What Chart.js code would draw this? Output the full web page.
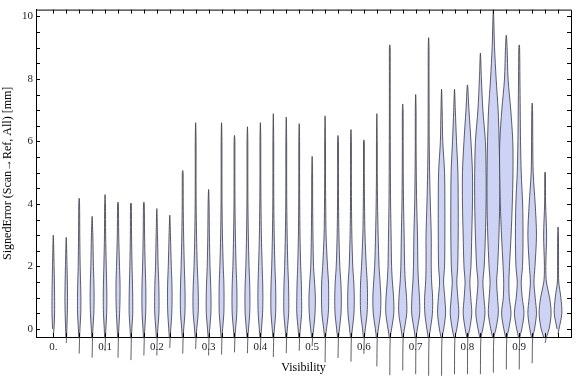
<!DOCTYPE html>
<html>
<head>
<meta charset="utf-8">
<script src="https://cdn.jsdelivr.net/npm/chart.js@4"></script>
<style>
  html, body { margin: 0; padding: 0; background: #fff; }
  #violinChart { display: block; }
</style>
</head>
<body>
<canvas id="violinChart" width="576" height="377"></canvas>
<script>
// 바이올린 위치 (Visibility)
const visibility = [
  0, 0.025, 0.05, 0.075, 0.1, 0.125, 0.15, 0.175, 0.2, 0.225,
  0.25, 0.275, 0.3, 0.325, 0.35, 0.375, 0.4, 0.425, 0.45, 0.475,
  0.5, 0.525, 0.55, 0.575, 0.6, 0.625, 0.65, 0.675, 0.7, 0.725,
  0.75, 0.775, 0.8, 0.825, 0.85, 0.875, 0.9, 0.925, 0.95, 0.975
];

// 최대값 / 최소값
const topValues = [
  3.0, 2.93, 4.18, 3.6, 4.3, 4.06, 4.03, 4.06, 3.85, 3.64,
  5.07, 6.6, 4.46, 6.6, 6.19, 6.47, 6.6, 6.89, 6.78, 6.57,
  5.52, 6.82, 6.19, 6.38, 6.05, 6.89, 9.09, 7.2, 7.5, 9.32,
  7.67, 7.67, 7.81, 8.83, 10.2, 9.4, 9.09, 7.23, 5.02, 3.26
];
const bottomValues = [
  -0.2, -0.45, -0.79, -0.92, -0.71, -0.92, -1.0, -0.85, -0.85, -0.61,
  -0.79, -0.64, -0.85, -0.82, -0.75, -0.78, -0.68, -0.9, -0.78, -0.7,
  -0.55, -1.07, -0.93, -1.05, -0.8, -1.2, -1.48, -1.33, -1.45, -1.5,
  -1.5, -1.45, -1.45, -1.45, -1.4, -1.3, -1.3, -1.1, -0.45, -0.15
];

// 밀도(반폭) 샘플 높이
const levels = [-0.3, 0, 0.5, 1, 1.5, 2, 3, 4, 5, 6, 7, 8, 9];

// 각 바이올린의 높이별 밀도
const density = [
  [0.3, 0.7, 1.3, 1.3, 1.1, 0.8],
  [0.3, 0.6, 1.1, 1.3, 1.1, 0.8],
  [0.4, 0.8, 1.6, 1.7, 1.4, 1.0, 0.6, 0.4],
  [0.4, 0.8, 1.7, 2.0, 1.8, 1.3, 0.7],
  [0.4, 0.8, 1.6, 1.8, 1.6, 1.2, 0.6, 0.4],
  [0.4, 0.8, 1.6, 2.0, 2.0, 1.5, 0.7, 0.4],
  [0.4, 0.9, 1.8, 1.8, 1.5, 1.1, 0.6, 0.4],
  [0.4, 0.9, 1.8, 2.0, 1.8, 1.3, 0.7, 0.4],
  [0.4, 1.0, 2.1, 2.2, 1.9, 1.3, 0.7],
  [0.4, 1.0, 2.0, 2.3, 2.1, 1.5, 0.7],
  [0.4, 1.0, 2.2, 2.4, 2.1, 1.6, 0.9, 0.5, 0.4],
  [0.4, 1.1, 2.5, 2.7, 2.3, 1.6, 0.9, 0.5, 0.4, 0.4],
  [0.4, 1.1, 2.3, 2.4, 2.0, 1.4, 0.8, 0.5],
  [0.4, 1.1, 2.3, 2.5, 2.3, 1.7, 0.9, 0.5, 0.4, 0.4],
  [0.4, 1.1, 2.3, 2.5, 2.2, 1.6, 0.9, 0.5, 0.4, 0.4],
  [0.4, 1.1, 2.3, 2.5, 2.2, 1.6, 0.9, 0.5, 0.4, 0.4],
  [0.4, 1.1, 2.2, 2.5, 2.3, 1.8, 1.0, 0.6, 0.4, 0.4],
  [0.4, 1.1, 2.3, 2.5, 2.2, 1.6, 0.9, 0.5, 0.4, 0.4],
  [0.4, 1.1, 2.4, 2.5, 2.2, 1.6, 0.9, 0.5, 0.4, 0.4],
  [0.4, 1.1, 2.4, 2.4, 2.1, 1.5, 0.8, 0.5, 0.4, 0.4],
  [0.4, 1.5, 2.9, 3.2, 2.4, 1.4, 0.8, 0.5, 0.4],
  [0.4, 1.4, 3.2, 3.6, 3.4, 2.4, 1.0, 0.6, 0.4, 0.4],
  [0.4, 1.4, 3.0, 3.3, 2.8, 1.8, 0.9, 0.5, 0.4, 0.4],
  [0.4, 1.4, 3.0, 3.3, 2.8, 1.8, 0.9, 0.5, 0.4, 0.4],
  [0.4, 1.4, 3.2, 3.6, 3.3, 2.4, 1.1, 0.6, 0.4, 0.4],
  [0.4, 1.5, 3.6, 4.0, 3.2, 2.2, 1.3, 0.7, 0.4, 0.4],
  [0.4, 1.8, 4.0, 3.8, 2.6, 1.8, 1.3, 0.8, 0.6, 0.5, 0.4, 0.4, 0.4],
  [0.4, 1.7, 4.0, 3.8, 2.6, 1.9, 1.4, 0.8, 0.5, 0.4, 0.4],
  [0.4, 1.7, 4.0, 3.8, 2.8, 2.2, 1.8, 1.0, 0.6, 0.4, 0.4],
  [0.4, 1.8, 3.8, 4.0, 3.0, 2.6, 2.6, 1.7, 1.0, 0.6, 0.5, 0.4, 0.4],
  [0.4, 2.2, 4.0, 3.2, 2.0, 3.0, 3.3, 3.3, 3.0, 1.2, 0.6],
  [0.4, 2.3, 4.3, 3.3, 2.3, 3.2, 3.7, 3.7, 3.4, 2.0, 0.8],
  [0.4, 2.3, 4.3, 3.3, 2.4, 3.5, 4.3, 5.0, 5.0, 3.5, 1.5],
  [0.5, 2.4, 4.6, 3.5, 2.5, 3.8, 5.0, 5.7, 5.7, 5.0, 2.5, 1.0],
  [0.5, 2.6, 5.0, 4.2, 3.3, 4.3, 5.6, 6.3, 6.3, 5.8, 4.8, 2.8, 1.2],
  [0.5, 2.5, 4.7, 3.0, 2.6, 3.2, 4.8, 6.0, 6.7, 6.5, 4.5, 1.8, 0.8],
  [0.5, 2.6, 4.8, 3.0, 2.0, 3.3, 3.8, 3.4, 2.0, 1.3, 1.0, 0.7, 0.4],
  [0.5, 2.4, 4.3, 3.0, 1.8, 2.8, 4.3, 3.0, 1.0, 0.6, 0.4],
  [1.0, 4.0, 6.0, 4.5, 1.3, 0.7, 1.5, 0.5, 0.3],
  [0, 1.0, 3.8, 2.8, 0.7, 0.5, 0.4]
];

// 축 눈금 라벨
const xTickValues = [0, 0.1, 0.2, 0.3, 0.4, 0.5, 0.6, 0.7, 0.8, 0.9];
const xTickLabels = ['0.', '0.1', '0.2', '0.3', '0.4', '0.5', '0.6', '0.7', '0.8', '0.9'];
const yTickValues = [0, 2, 4, 6, 8, 10];

const WIDTH_SCALE = 0.025 / 12.94; // 밀도 1 = 약 1px

// 바이올린 외곽선 (오른쪽 아래→위, 왼쪽 위→아래)
function violinOutline(i) {
  const cx = visibility[i];
  const right = [{ x: cx, y: bottomValues[i] }];
  levels.forEach((lv, k) => {
    const w = density[i][k];
    if (lv > bottomValues[i] && lv < topValues[i] && w !== undefined) {
      right.push({ x: cx + w * WIDTH_SCALE, y: lv });
    }
  });
  const left = right.slice(1).reverse().map(p => ({ x: 2 * cx - p.x, y: p.y }));
  return right.concat([{ x: cx, y: topValues[i] }], left);
}

const datasets = visibility.map((v, i) => ({
  data: violinOutline(i),
  borderColor: 'rgba(55, 55, 65, 0.8)',
  borderWidth: 1,
  backgroundColor: '#ccd3f4',
  fill: 'shape',
  tension: 0.3,
  pointRadius: 0,
  clip: false
}));

// 프레임 + 안쪽 눈금
const frameTicks = {
  id: 'frameTicks',
  afterDatasetsDraw(chart) {
    const { ctx, chartArea: a, scales: { x, y } } = chart;
    ctx.save();
    ctx.strokeStyle = '#000';
    ctx.lineWidth = 1;
    ctx.beginPath();
    ctx.moveTo(a.left, a.top + 0.5);
    ctx.lineTo(a.right + 0.5, a.top + 0.5);
    ctx.lineTo(a.right + 0.5, a.bottom);
    visibility.forEach(v => {
      const px = Math.round(x.getPixelForValue(v)) + 0.5;
      ctx.moveTo(px, a.bottom);
      ctx.lineTo(px, a.bottom - 4);
      ctx.moveTo(px, a.top);
      ctx.lineTo(px, a.top + 4);
    });
    for (let t = 0; t <= 10; t += 0.5) {
      const py = Math.round(y.getPixelForValue(t)) + 0.5;
      ctx.moveTo(a.left, py);
      ctx.lineTo(a.left + 4, py);
      ctx.moveTo(a.right, py);
      ctx.lineTo(a.right - 4, py);
    }
    ctx.stroke();
    ctx.restore();
  }
};

const serif = 'Liberation Serif';

new Chart(document.getElementById('violinChart'), {
  type: 'line',
  data: { datasets: datasets },
  options: {
    responsive: false,
    animation: false,
    devicePixelRatio: 1,
    layout: { padding: { top: 4, right: 5, left: 0, bottom: 0 } },
    elements: { line: { capBezierPoints: false } },
    plugins: {
      legend: { display: false },
      tooltip: { enabled: false }
    },
    scales: {
      x: {
        type: 'linear',
        min: -0.0334,
        max: 1.0,
        afterBuildTicks: scale => { scale.ticks = xTickValues.map(v => ({ value: v })); },
        afterFit: scale => { scale.height = 40; },
        grid: { display: false, drawTicks: false },
        border: { display: true, color: '#000', width: 1 },
        ticks: {
          padding: 4,
          color: '#222',
          font: { family: serif, size: 11 },
          maxRotation: 0,
          autoSkip: false,
          callback: (v, idx) => xTickLabels[idx]
        },
        title: {
          display: true,
          text: 'Visibility',
          color: '#000',
          font: { family: serif, size: 12 },
          padding: { top: 0, bottom: 2 }
        }
      },
      y: {
        type: 'linear',
        min: -0.26,
        max: 10.22,
        afterBuildTicks: scale => { scale.ticks = yTickValues.map(v => ({ value: v })); },
        afterFit: scale => { scale.width = 36; },
        grid: { display: false, drawTicks: false },
        border: { display: true, color: '#000', width: 1 },
        ticks: {
          padding: 3,
          color: '#222',
          font: { family: serif, size: 11 },
          callback: v => String(v)
        },
        title: {
          display: true,
          text: 'SignedError (Scan→Ref, All) [mm]',
          color: '#000',
          font: { family: serif, size: 12 },
          padding: { top: 1, bottom: 0 }
        }
      }
    }
  },
  plugins: [frameTicks]
});
</script>
</body>
</html>
